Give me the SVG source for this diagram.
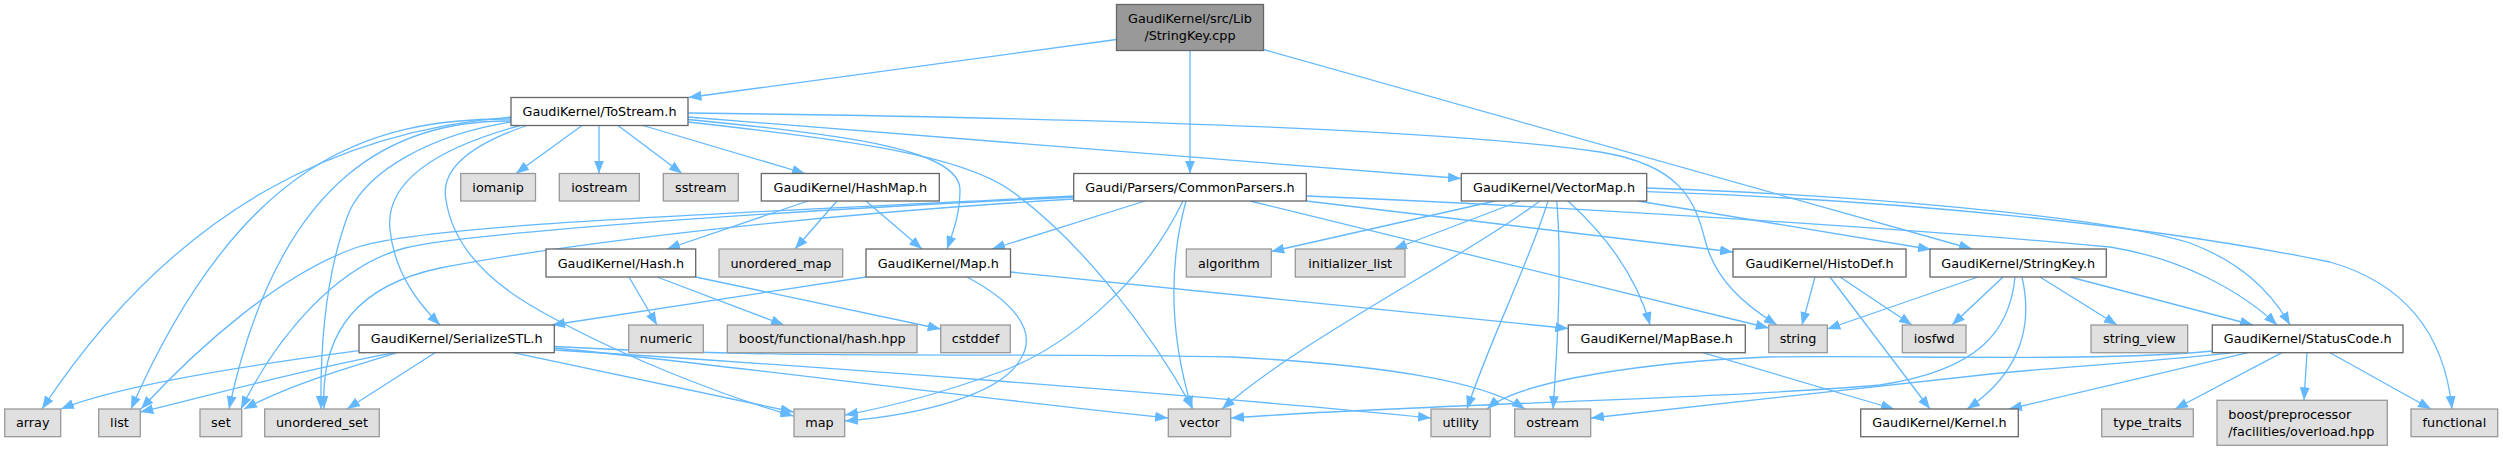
<svg xmlns="http://www.w3.org/2000/svg" width="2503" height="451" viewBox="0 0 2503 451">
<defs>
<style>
.e{fill:none;stroke:#63b8ff;stroke-width:1.3;marker-end:url(#ah)}
.w{fill:#ffffff;stroke:#666666;stroke-width:1.3}
.g{fill:#e0e0e0;stroke:#999999;stroke-width:1.3}
.r{fill:#999999;stroke:#666666;stroke-width:1.3}
text{font-family:"DejaVu Sans","Liberation Sans",sans-serif;font-size:12.8px;fill:#000000;text-anchor:middle}
</style>
<marker id="ah" markerUnits="userSpaceOnUse" viewBox="0 0 13 10" refX="13" refY="5" markerWidth="13" markerHeight="10" orient="auto">
<path d="M0,0 L13,5 L0,10 z" fill="#63b8ff"/>
</marker>
</defs>
<rect width="2503" height="451" fill="#ffffff"/>
<g id="edges">
<path class="e" d="M1116.5,39.5 L688.5,97.5"/>
<path class="e" d="M1190,50.5 L1190,173.5"/>
<path class="e" d="M1263.5,49.5 L1972,249"/>
<path class="e" d="M511,117 C350,130 180,200 42,409"/>
<path class="e" d="M511,119 C370,118 240,160 131,409"/>
<path class="e" d="M511,121 C400,120 280,170 229,409"/>
<path class="e" d="M511,122 C430,135 370,170 350,210 C330,260 320,330 321,409"/>
<path class="e" d="M520,125.5 C430,150 385,185 390,230 C395,275 420,305 440,325"/>
<path class="e" d="M527,125.5 C470,145 440,170 446,200 C452,240 480,275 530,305 C610,352 720,395 793.5,416"/>
<path class="e" d="M582,125.5 L516,173.5"/>
<path class="e" d="M599,125.5 L599,173.5"/>
<path class="e" d="M618,125.5 L682,173.5"/>
<path class="e" d="M643,125.5 L805,173.5"/>
<path class="e" d="M688,119.5 C850,135 960,150 960,190 C960,215 952,235 947,249"/>
<path class="e" d="M688,117 L1461,178.5"/>
<path class="e" d="M688,122 C850,140 960,155 1010,190 C1080,240 1150,330 1193,409"/>
<path class="e" d="M688,113 C1100,118 1450,130 1600,152 C1680,165 1695,200 1705,240 C1715,280 1745,305 1777,325"/>
<path class="e" d="M808,201 L667,249"/>
<path class="e" d="M837,201 L795,249"/>
<path class="e" d="M866,201 L922,249"/>
<path class="e" d="M1074,196 C700,215 420,225 355,248 C280,275 200,345 141,409"/>
<path class="e" d="M1074,197 C700,215 460,235 405,248 C340,265 280,330 241,409"/>
<path class="e" d="M1074,199 C800,215 560,245 440,268 C360,285 320,330 324,409"/>
<path class="e" d="M1145,201 L992,249"/>
<path class="e" d="M1183,201 C1140,290 1060,350 1000,372 C950,390 900,405 845,415"/>
<path class="e" d="M1186,201 C1170,260 1168,330 1192,409"/>
<path class="e" d="M1250,201 L1768.7,328"/>
<path class="e" d="M1306.3,201 L1733,252"/>
<path class="e" d="M1306.3,196 C1600,208 1950,232 2110,247 C2180,258 2240,290 2277,325"/>
<path class="e" d="M1495,201 L1271.3,251.5"/>
<path class="e" d="M1520,201 L1394,249"/>
<path class="e" d="M1540,201 C1460,260 1300,340 1222,409"/>
<path class="e" d="M1548,201 C1530,260 1490,340 1467,409"/>
<path class="e" d="M1556.7,201 C1562,260 1558,340 1553,409"/>
<path class="e" d="M1568,201 C1600,230 1635,270 1650,325"/>
<path class="e" d="M1638,201 L1931,249.5"/>
<path class="e" d="M1646.7,188 C1850,195 2100,215 2190,243 C2240,262 2270,290 2290,325"/>
<path class="e" d="M1646.7,191.7 C1900,200 2150,225 2330,262 C2410,285 2445,340 2452,409"/>
<path class="e" d="M629,277 L657,325"/>
<path class="e" d="M657,277 L784,325"/>
<path class="e" d="M695.7,277 L940.7,329"/>
<path class="e" d="M866,277 L552,325"/>
<path class="e" d="M967,277 C1010,300 1040,330 1020,360 C1000,395 920,415 845,421"/>
<path class="e" d="M1010.5,272 L1568.3,328.5"/>
<path class="e" d="M1815,277 L1802,325"/>
<path class="e" d="M1840,277 L1912,325"/>
<path class="e" d="M1830,277 L1930,409"/>
<path class="e" d="M1978,277 L1827.3,329"/>
<path class="e" d="M2003,277 L1952,325"/>
<path class="e" d="M2040,277 L2117,325"/>
<path class="e" d="M2070,277 L2253,325"/>
<path class="e" d="M2022,277 C2032,320 2025,370 1967,409"/>
<path class="e" d="M2015,277 C2010,330 1980,370 1880,385 C1700,400 1400,405 1231,418"/>
<path class="e" d="M1703,352.7 L1894,409"/>
<path class="e" d="M359,350.7 C250,365 120,385 61,409"/>
<path class="e" d="M395,352.7 C300,370 200,398 140.3,412"/>
<path class="e" d="M397,352.7 C340,370 290,385 244,409"/>
<path class="e" d="M435,352.7 L347,409"/>
<path class="e" d="M513,352.7 L793.5,412"/>
<path class="e" d="M554.3,348 C700,362 950,395 1168,418"/>
<path class="e" d="M554.3,350 C800,365 1200,395 1431,418"/>
<path class="e" d="M554.3,346.5 C800,360 1000,352 1233,357 C1380,365 1480,380 1525,409"/>
<path class="e" d="M2282,352.7 L2175,409"/>
<path class="e" d="M2307,352.7 L2304,400.3"/>
<path class="e" d="M2330,352.7 L2431,409"/>
<path class="e" d="M2248,352.7 L2009,409"/>
<path class="e" d="M2212.3,351 C2100,362 1900,355 1767,357 C1650,362 1520,380 1487,409"/>
<path class="e" d="M2233,352.7 C2150,362 2050,368 2000,373 C1850,390 1700,405 1591,418"/>
</g>
<g id="n_top"><rect class="r" x="1116.5" y="4.5" width="147" height="46"/><text x="1190" y="23">GaudiKernel/src/Lib</text><text x="1190" y="40">/StringKey.cpp</text></g>
<g id="n_tostream"><rect class="w" x="511" y="97.5" width="177" height="28"/><text x="599.5" y="116">GaudiKernel/ToStream.h</text></g>
<g id="n_iomanip"><rect class="g" x="460.7" y="173.5" width="74.8" height="27.5"/><text x="498.1" y="191.8">iomanip</text></g>
<g id="n_iostream"><rect class="g" x="559.3" y="173.5" width="80" height="27.5"/><text x="599.3" y="191.8">iostream</text></g>
<g id="n_sstream"><rect class="g" x="663.3" y="173.5" width="75" height="27.5"/><text x="700.8" y="191.8">sstream</text></g>
<g id="n_hashmap"><rect class="w" x="761.3" y="173.5" width="178" height="27.5"/><text x="850.3" y="191.8">GaudiKernel/HashMap.h</text></g>
<g id="n_commonparsers"><rect class="w" x="1073.7" y="173.5" width="232.6" height="27.5"/><text x="1190" y="191.8">Gaudi/Parsers/CommonParsers.h</text></g>
<g id="n_vectormap"><rect class="w" x="1461.3" y="173.5" width="185.4" height="27.5"/><text x="1554" y="191.8">GaudiKernel/VectorMap.h</text></g>
<g id="n_hash"><rect class="w" x="546" y="249" width="149.7" height="28"/><text x="620.9" y="267.5">GaudiKernel/Hash.h</text></g>
<g id="n_unordered_map"><rect class="g" x="719" y="249" width="123.7" height="28"/><text x="780.9" y="267.5">unordered_map</text></g>
<g id="n_map_h"><rect class="w" x="866" y="249" width="144.5" height="28"/><text x="938.3" y="267.5">GaudiKernel/Map.h</text></g>
<g id="n_algorithm"><rect class="g" x="1186.3" y="249" width="85" height="28"/><text x="1228.8" y="267.5">algorithm</text></g>
<g id="n_initializer_list"><rect class="g" x="1295.3" y="249" width="109.7" height="28"/><text x="1350.2" y="267.5">initializer_list</text></g>
<g id="n_histodef"><rect class="w" x="1733" y="249" width="173" height="28"/><text x="1819.5" y="267.5">GaudiKernel/HistoDef.h</text></g>
<g id="n_stringkey"><rect class="w" x="1930" y="249" width="176.3" height="28"/><text x="2018.2" y="267.5">GaudiKernel/StringKey.h</text></g>
<g id="n_serializestl"><rect class="w" x="359" y="325" width="195.3" height="27.7"/><text x="456.7" y="343.4">GaudiKernel/SerializeSTL.h</text></g>
<g id="n_numeric"><rect class="g" x="628.7" y="325" width="74.6" height="27.7"/><text x="666" y="343.4">numeric</text></g>
<g id="n_boost_hash"><rect class="g" x="727.3" y="325" width="189.7" height="27.7"/><text x="822.2" y="343.4">boost/functional/hash.hpp</text></g>
<g id="n_cstddef"><rect class="g" x="940.7" y="325" width="69.6" height="27.7"/><text x="975.5" y="343.4">cstddef</text></g>
<g id="n_mapbase"><rect class="w" x="1568.3" y="325" width="177" height="27.7"/><text x="1656.8" y="343.4">GaudiKernel/MapBase.h</text></g>
<g id="n_string"><rect class="g" x="1768.7" y="325" width="58.6" height="27.7"/><text x="1798" y="343.4">string</text></g>
<g id="n_iosfwd"><rect class="g" x="1902.3" y="325" width="63.7" height="27.7"/><text x="1934.2" y="343.4">iosfwd</text></g>
<g id="n_string_view"><rect class="g" x="2091" y="325" width="96.7" height="27.7"/><text x="2139.4" y="343.4">string_view</text></g>
<g id="n_statuscode"><rect class="w" x="2212.3" y="325" width="190.7" height="27.7"/><text x="2307.7" y="343.4">GaudiKernel/StatusCode.h</text></g>
<g id="n_array"><rect class="g" x="4.7" y="409" width="56" height="27.7"/><text x="32.7" y="427.4">array</text></g>
<g id="n_list"><rect class="g" x="98.7" y="409" width="41.6" height="27.7"/><text x="119.5" y="427.4">list</text></g>
<g id="n_set"><rect class="g" x="200" y="409" width="41.7" height="27.7"/><text x="220.9" y="427.4">set</text></g>
<g id="n_unordered_set"><rect class="g" x="264.7" y="409" width="114.6" height="27.7"/><text x="322" y="427.4">unordered_set</text></g>
<g id="n_map"><rect class="g" x="794" y="409" width="50.7" height="27.7"/><text x="819.4" y="427.4">map</text></g>
<g id="n_vector"><rect class="g" x="1168.3" y="409" width="62.4" height="27.7"/><text x="1199.5" y="427.4">vector</text></g>
<g id="n_utility"><rect class="g" x="1431" y="409" width="59.3" height="27.7"/><text x="1460.7" y="427.4">utility</text></g>
<g id="n_ostream"><rect class="g" x="1514.7" y="409" width="76" height="27.7"/><text x="1552.7" y="427.4">ostream</text></g>
<g id="n_kernel"><rect class="w" x="1860.7" y="409" width="157.6" height="27.7"/><text x="1939.5" y="427.4">GaudiKernel/Kernel.h</text></g>
<g id="n_type_traits"><rect class="g" x="2101.7" y="409" width="91.6" height="27.7"/><text x="2147.5" y="427.4">type_traits</text></g>
<g id="n_boost_pp"><rect class="g" x="2217" y="400.3" width="170.3" height="45"/><text x="2228.3" y="419" style="text-anchor:start">boost/preprocessor</text><text x="2228.3" y="436" style="text-anchor:start">/facilities/overload.hpp</text></g>
<g id="n_functional"><rect class="g" x="2411" y="409" width="86.7" height="27.7"/><text x="2454.4" y="427.4">functional</text></g>
</svg>
